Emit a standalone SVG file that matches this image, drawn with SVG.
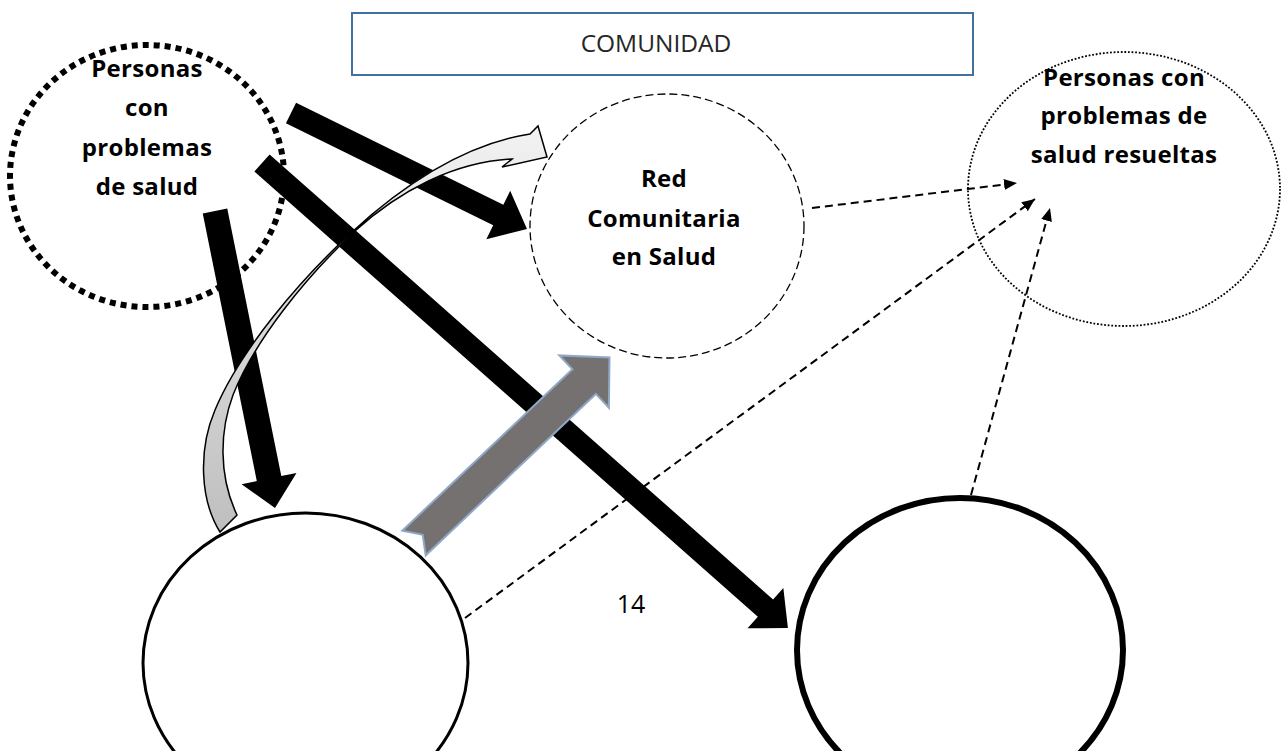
<svg xmlns="http://www.w3.org/2000/svg" width="1283" height="751" viewBox="0 0 1283 751">
<style>
.lbl{font-family:"Open Sans","DejaVu Sans",sans-serif;font-weight:700;font-size:24px;letter-spacing:0.3px;fill:#000;text-anchor:middle}
.blk{fill:#000;stroke:none}
.dash{fill:none;stroke:#000;stroke-width:2;stroke-dasharray:8 5;marker-end:url(#ah)}
</style>
<defs>
<marker id="ah" markerUnits="userSpaceOnUse" markerWidth="14" markerHeight="12" refX="13" refY="5.5" orient="auto">
<path d="M0,0 L13,5.5 L0,11 Z" fill="#000"/>
</marker>
<linearGradient id="cg" gradientUnits="userSpaceOnUse" x1="0" y1="530" x2="0" y2="130">
<stop offset="0" stop-color="#BFBFBF"/>
<stop offset="1" stop-color="#F2F2F2"/>
</linearGradient>
</defs>
<rect width="1283" height="751" fill="#fff"/>

<g id="comunidad">
<rect x="352" y="13" width="621" height="62" fill="#fff" stroke="#41719C" stroke-width="2"/>
<text x="656" y="52" font-family="'Open Sans','DejaVu Sans',sans-serif" font-size="24.5" fill="#262626" text-anchor="middle">COMUNIDAD</text>
</g>

<g id="personas">
<ellipse cx="147" cy="176" rx="137" ry="131" fill="none" stroke="#000" stroke-width="6" stroke-dasharray="6 5"/>
<text class="lbl" x="147" y="77">Personas</text>
<text class="lbl" x="147" y="116">con</text>
<text class="lbl" x="147" y="156">problemas</text>
<text class="lbl" x="147" y="195">de salud</text>
</g>

<g id="red">
<ellipse cx="667" cy="226" rx="137" ry="132" fill="none" stroke="#000" stroke-width="1.3" stroke-dasharray="8 4"/>
<text class="lbl" x="664" y="187">Red</text>
<text class="lbl" x="664" y="227">Comunitaria</text>
<text class="lbl" x="664" y="265">en Salud</text>
</g>

<g id="resueltas">
<ellipse cx="1124" cy="189" rx="156" ry="137" fill="none" stroke="#000" stroke-width="1.8" stroke-dasharray="1.8 1.8"/>
<text class="lbl" x="1124" y="86">Personas con</text>
<text class="lbl" x="1124" y="124">problemas de</text>
<text class="lbl" x="1124" y="163">salud resueltas</text>
</g>

<g id="circulo-izq">
<ellipse cx="305.5" cy="663" rx="162.5" ry="150" fill="none" stroke="#000" stroke-width="3"/>
</g>

<g id="circulo-der">
<ellipse cx="960" cy="650" rx="163" ry="152" fill="none" stroke="#000" stroke-width="6"/>
</g>

<g id="pagina">
<text x="631" y="613" font-family="'Open Sans','DejaVu Sans',sans-serif" font-size="25" fill="#000" text-anchor="middle">14</text>
</g>

<g id="connectors">
<line class="dash" x1="812" y1="208" x2="1017" y2="183"/>
<line class="dash" x1="465" y1="618" x2="1035" y2="199"/>
<line class="dash" x1="971" y1="495" x2="1050" y2="208"/>
<polygon class="blk" transform="translate(291,113) rotate(26.2)" points="0,-11.5 231,-11.5 231,-27 263,0 231,27 231,11.5 0,11.5"/>
<polygon class="blk" transform="translate(262,163) rotate(41.48)" points="0,-11.5 672,-11.5 672,-27 702,0 672,27 672,11.5 0,11.5"/>
<polygon class="blk" transform="translate(215,211) rotate(78.58)" points="0,-12.5 273,-12.5 273,-28 303,0 273,28 273,12.5 0,12.5"/>
<polygon transform="translate(414,543) rotate(-43.5)" points="0,-17 234.5,-17 234.5,-36 269.5,0 234.5,36 234.5,17 0,17 12,0" fill="#767171" stroke="#8FA8C8" stroke-width="2" stroke-linejoin="miter"/>
<path d="M220,532 C200,500 198,450 215,410 C240,350 300,280 352,232 C400,188 460,145 530,134 L538,126 L547,157 L502,167 L512,159 C455,162 400,190 355,231 C305,278 255,340 233,395 C220,430 218,475 237,515 Z" fill="url(#cg)" stroke="#000" stroke-width="1.5" stroke-linejoin="miter"/>
</g>
</svg>
